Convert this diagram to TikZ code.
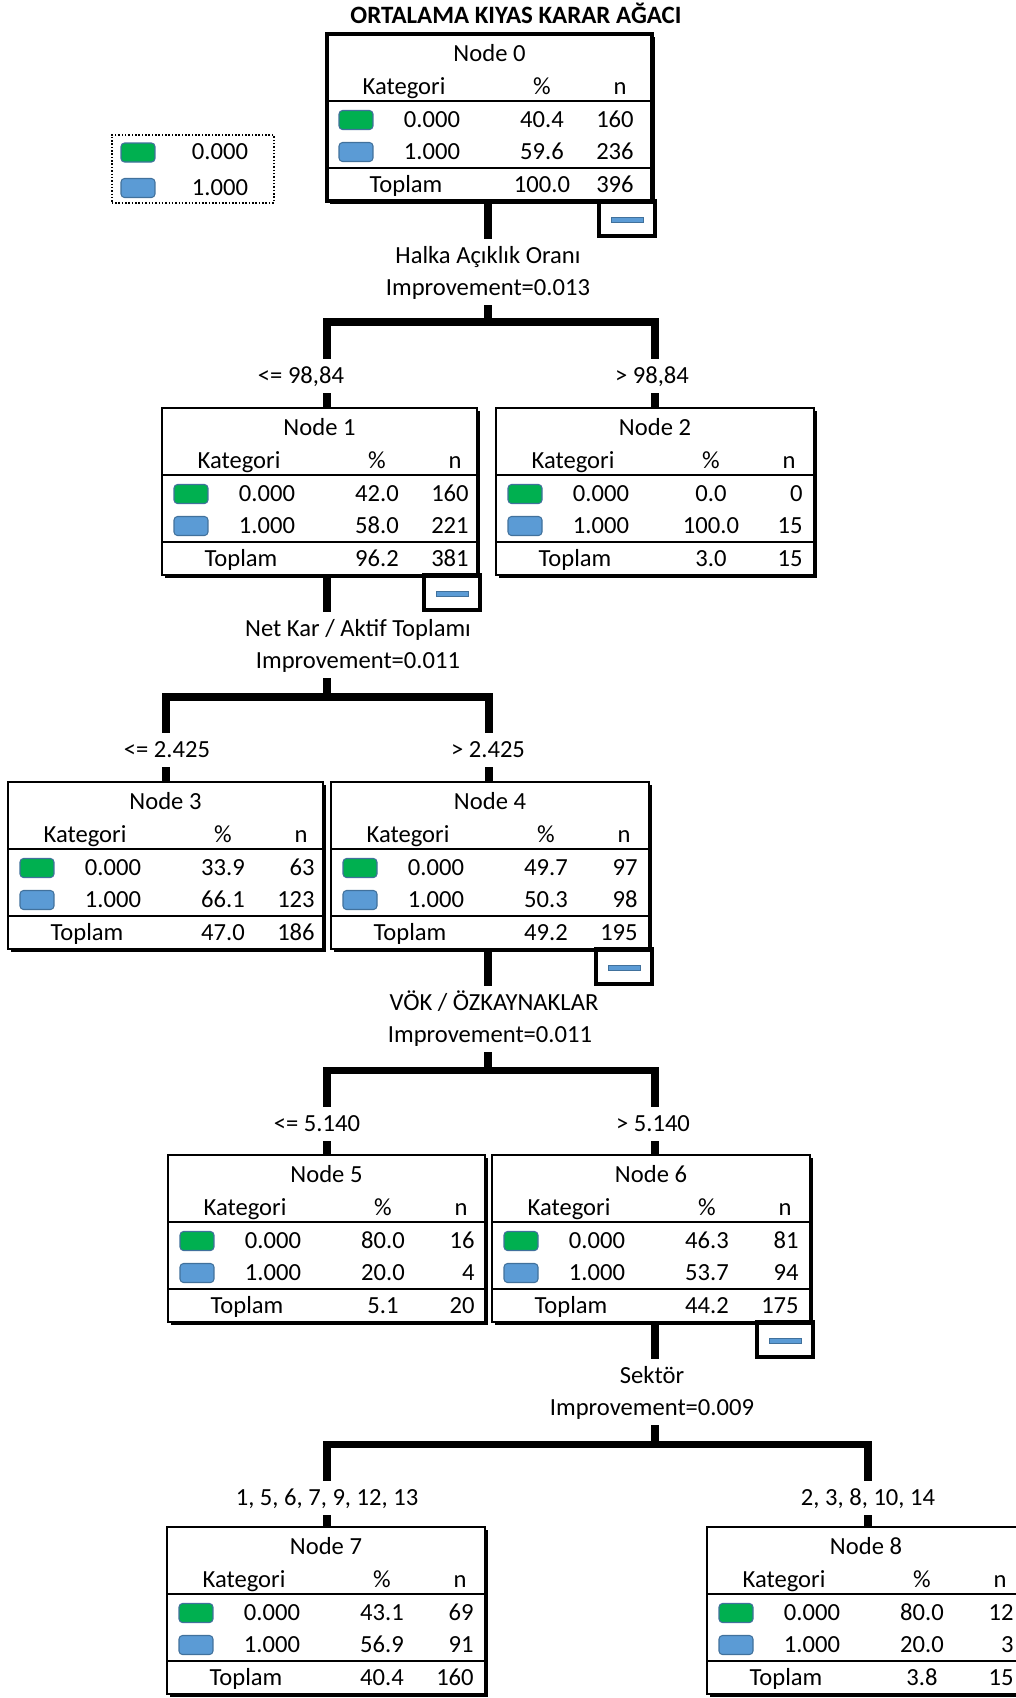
\documentclass[tikz,border=0pt]{standalone}
\usepackage{fontspec}
\setmainfont{Carlito}
\usepackage{tikz}
\usetikzlibrary{calc}
\definecolor{yesil}{HTML}{00B050}
\definecolor{mavi}{HTML}{5B9BD5}
\definecolor{kenar}{HTML}{41719C}
\tikzset{
  yazi/.style={font=\fontsize{14}{16}\selectfont, inner sep=0pt, text height=9pt, text depth=0pt},
  etiket/.style={yazi, minimum height=19.3pt},
  kutu/.style={draw, fill=white, line width=0.9pt, inner sep=0pt, outer sep=0pt, anchor=north west, minimum height=3.34cm},
  renkkutu/.style={draw=kenar, line width=0.6pt, rounded corners=2pt, minimum width=0.68cm, minimum height=0.38cm, inner sep=0pt},
  dal/.style={line width=4pt},
  ayrac/.style={line width=1.4pt},
  kucukkutu/.style={draw, line width=2.3pt, minimum width=1.12cm, minimum height=0.7cm, inner sep=0pt, outer sep=0pt, anchor=north east},
  cubuk/.style={draw=kenar, fill=mavi, line width=0.4pt, minimum width=0.64cm, minimum height=0.1cm, inner sep=0pt}
}

\begin{document}
\begin{tikzpicture}[x=0.02cm, y=-0.02cm]
\useasboundingbox (0,0) rectangle (1016,1698);
\clip (0,0) rectangle (1016,1698);

\node[yazi, font=\fontsize{14.2}{16}\selectfont\bfseries] (baslik) at (516,16) {ORTALAMA KIYAS KARAR AĞACI};

% lejant
\node[draw, densely dotted, line width=0.9pt, minimum width=3.24cm, minimum height=1.36cm, inner sep=0pt, anchor=north west] (lejant) at (111,134) {};
\node[renkkutu, fill=yesil] (lej0) at (138,152.5) {};
\node[renkkutu, fill=mavi] (lej1) at (138,188) {};
\node[yazi] (lejt0) at (220,152) {0.000};
\node[yazi] (lejt1) at (220,188) {1.000};

% dugumler
\foreach \i/\x/\y/\w/\gp/\gn/\bp/\bn/\tp/\tn in {0/327/34/325/40.4/160/59.6/236/100.0/396,
  1/162/408/315/42.0/160/58.0/221/96.2/381,
  2/496/408/318/0.0/0/100.0/15/3.0/15,
  3/8/782/315/33.9/63/66.1/123/47.0/186,
  4/331/782/318/49.7/97/50.3/98/49.2/195,
  5/168/1155/317/80.0/16/20.0/4/5.1/20,
  6/492/1155/318/46.3/81/53.7/94/44.2/175,
  7/167/1527/318/43.1/69/56.9/91/40.4/160,
  8/707/1527/318/80.0/12/20.0/3/3.8/15}{
  \fill (\x+2.5,\y+2.5) rectangle (\x+\w+2.5,\y+169.5);
  \node[kutu, minimum width=\w*0.02cm] (n\i) at (\x,\y) {};
  \draw[ayrac] (\x,\y+67) -- (\x+\w,\y+67) (\x,\y+134) -- (\x+\w,\y+134);
  \node[yazi] (n\i-ad) at (\x+\w/2,\y+20) {Node \i};
  \node[yazi] (n\i-kat) at (\x+77,\y+53) {Kategori};
  \node[yazi] (n\i-yz) at (\x+215,\y+53) {\%};
  \node[yazi] (n\i-n) at (\x+293,\y+53) {n};
  \node[renkkutu, fill=yesil] (n\i-s0) at (\x+29,\y+86) {};
  \node[renkkutu, fill=mavi] (n\i-s1) at (\x+29,\y+118) {};
  \node[yazi] (n\i-k0) at (\x+105,\y+86) {0.000};
  \node[yazi] (n\i-k1) at (\x+105,\y+118) {1.000};
  \node[yazi] (n\i-p0) at (\x+215,\y+86) {\gp};
  \node[yazi] (n\i-p1) at (\x+215,\y+118) {\bp};
  \node[yazi, anchor=east] (n\i-c0) at (\x+307,\y+86) {\gn};
  \node[yazi, anchor=east] (n\i-c1) at (\x+307,\y+118) {\bn};
  \node[yazi] (n\i-top) at (\x+79,\y+151) {Toplam};
  \node[yazi] (n\i-tp) at (\x+215,\y+151) {\tp};
  \node[yazi, anchor=east] (n\i-tn) at (\x+307,\y+151) {\tn};
}
\draw[line width=2.3pt] (n0.north west) rectangle (n0.south east);

\foreach \i in {0,1,4,6}{
  \node[kucukkutu] (m\i) at ($(n\i.south east)+(3,0)$) {};
  \node[cubuk] (m\i-c) at ($(m\i.center)+(0,1)$) {};
}

% Halka Aciklik Orani
\node[etiket] (s0a) at (488,256) {Halka Açıklık Oranı};
\node[etiket] (s0b) at (488,288) {Improvement=0.013};
\coordinate (b0) at (488,322);
\coordinate (k1) at (327,408);
\coordinate (k2) at (655,408);
\node[etiket] (e1) at (301,376) {<= 98,84};
\node[etiket] (e2) at (652,376) {> 98,84};
\draw[dal] (n0.south -| b0) -- (b0 |- s0a.north);
\draw[dal] (b0 |- s0b.south) -- (b0);
\draw[dal] (k1 |- e1.north) |- (b0) -| (k2 |- e2.north);
\draw[dal] (k1 |- e1.south) -- (k1 |- n1.north);
\draw[dal] (k2 |- e2.south) -- (k2 |- n2.north);

% Net Kar / Aktif Toplami
\node[etiket] (s1a) at (358,629) {Net Kar / Aktif Toplamı};
\node[etiket] (s1b) at (358,661) {Improvement=0.011};
\coordinate (b1) at (327,697);
\coordinate (k3) at (166,782);
\coordinate (k4) at (489,782);
\node[etiket] (e3) at (167,750) {<= 2.425};
\node[etiket] (e4) at (488,750) {> 2.425};
\draw[dal] (n1.south -| b1) -- (b1 |- s1a.north);
\draw[dal] (b1 |- s1b.south) -- (b1);
\draw[dal] (k3 |- e3.north) |- (b1) -| (k4 |- e4.north);
\draw[dal] (k3 |- e3.south) -- (k3 |- n3.north);
\draw[dal] (k4 |- e4.south) -- (k4 |- n4.north);

% VOK / OZKAYNAKLAR
\node[etiket] (s2a) at (494,1003) {VÖK / ÖZKAYNAKLAR};
\node[etiket] (s2b) at (490,1035) {Improvement=0.011};
\coordinate (b2) at (488,1070);
\coordinate (k5) at (327,1155);
\coordinate (k6) at (655,1155);
\node[etiket] (e5) at (317,1124) {<= 5.140};
\node[etiket] (e6) at (653,1124) {> 5.140};
\draw[dal] (n4.south -| b2) -- (b2 |- s2a.north);
\draw[dal] (b2 |- s2b.south) -- (b2);
\draw[dal] (k5 |- e5.north) |- (b2) -| (k6 |- e6.north);
\draw[dal] (k5 |- e5.south) -- (k5 |- n5.north);
\draw[dal] (k6 |- e6.south) -- (k6 |- n6.north);

% Sektor
\node[etiket] (s3a) at (652,1376) {Sektör};
\node[etiket] (s3b) at (652,1408) {Improvement=0.009};
\coordinate (b3) at (655,1444);
\coordinate (k7) at (327,1527);
\coordinate (k8) at (868,1527);
\node[etiket] (e7) at (327,1498) {1, 5, 6, 7, 9, 12, 13};
\node[etiket] (e8) at (868,1498) {2, 3, 8, 10, 14};
\draw[dal] (n6.south -| b3) -- (b3 |- s3a.north);
\draw[dal] (b3 |- s3b.south) -- (b3);
\draw[dal] (k7 |- e7.north) |- (b3) -| (k8 |- e8.north);
\draw[dal] (k7 |- e7.south) -- (k7 |- n7.north);
\draw[dal] (k8 |- e8.south) -- (k8 |- n8.north);
\end{tikzpicture}
\end{document}
